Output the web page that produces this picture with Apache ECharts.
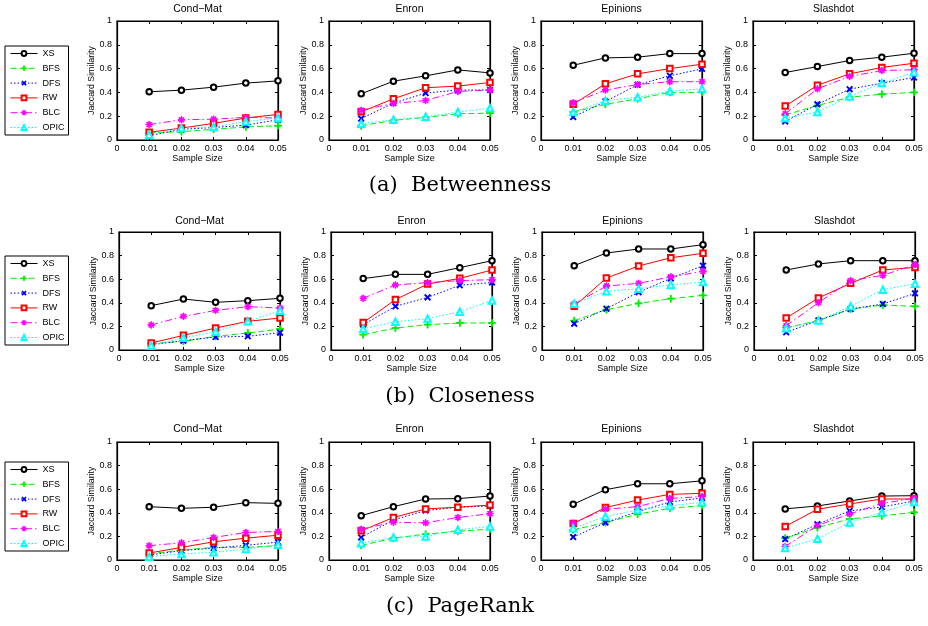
<!DOCTYPE html>
<html>
<head>
<meta charset="utf-8">
<script src="https://cdn.jsdelivr.net/npm/echarts@6/dist/echarts.min.js"></script>
<style>html,body{margin:0;padding:0;background:#fff}#c{width:928px;height:626px}</style>
</head>
<body>
<div id="c"></div>
<script>
// ---------- data ----------
const sampleSizes = [0.01, 0.02, 0.03, 0.04, 0.05];
const xTickLabels = ['0', '0.01', '0.02', '0.03', '0.04', '0.05'];
const yTickLabels = ['0', '0.2', '0.4', '0.6', '0.8', '1'];
const methods = ['XS', 'BFS', 'DFS', 'RW', 'BLC', 'OPIC'];
const datasets = ['Cond\u2212Mat', 'Enron', 'Epinions', 'Slashdot'];
const captions = ['(a)  Betweenness', '(b)  Closeness', '(c)  PageRank'];

// rows: XS, BFS, DFS, RW, BLC, OPIC
const betweennessCondMat = [
  [0.405, 0.419, 0.444, 0.478, 0.497],
  [0.060, 0.070, 0.090, 0.110, 0.120],
  [0.036, 0.090, 0.105, 0.125, 0.170],
  [0.065, 0.100, 0.140, 0.185, 0.215],
  [0.130, 0.170, 0.175, 0.190, 0.185],
  [0.045, 0.100, 0.110, 0.155, 0.185]
];
const betweennessEnron = [
  [0.388, 0.494, 0.539, 0.589, 0.564],
  [0.120, 0.165, 0.190, 0.220, 0.226],
  [0.180, 0.310, 0.394, 0.420, 0.420],
  [0.237, 0.346, 0.439, 0.453, 0.483],
  [0.250, 0.307, 0.332, 0.408, 0.420],
  [0.137, 0.170, 0.195, 0.235, 0.268]
];
const betweennessEpinions = [
  [0.628, 0.690, 0.696, 0.726, 0.726],
  [0.235, 0.300, 0.346, 0.400, 0.400],
  [0.193, 0.324, 0.464, 0.540, 0.598],
  [0.300, 0.472, 0.556, 0.600, 0.637],
  [0.313, 0.420, 0.466, 0.490, 0.490],
  [0.235, 0.330, 0.360, 0.410, 0.430]
];
const betweennessSlashdot = [
  [0.567, 0.617, 0.668, 0.696, 0.729],
  [0.210, 0.290, 0.360, 0.385, 0.400],
  [0.156, 0.300, 0.427, 0.478, 0.525],
  [0.285, 0.460, 0.556, 0.610, 0.645],
  [0.220, 0.430, 0.534, 0.584, 0.590],
  [0.184, 0.235, 0.366, 0.478, 0.570]
];
const closenessCondMat = [
  [0.376, 0.432, 0.404, 0.418, 0.438],
  [0.054, 0.073, 0.116, 0.144, 0.178],
  [0.045, 0.079, 0.110, 0.116, 0.147],
  [0.059, 0.124, 0.186, 0.243, 0.271],
  [0.212, 0.285, 0.336, 0.367, 0.356],
  [0.037, 0.104, 0.155, 0.243, 0.333]
];
const closenessEnron = [
  [0.605, 0.641, 0.641, 0.698, 0.757],
  [0.130, 0.186, 0.215, 0.229, 0.229],
  [0.215, 0.370, 0.446, 0.548, 0.573],
  [0.232, 0.427, 0.559, 0.607, 0.678],
  [0.438, 0.551, 0.571, 0.588, 0.596],
  [0.180, 0.240, 0.266, 0.325, 0.420]
];
const closenessEpinions = [
  [0.715, 0.822, 0.856, 0.856, 0.893],
  [0.249, 0.342, 0.395, 0.435, 0.463],
  [0.223, 0.350, 0.490, 0.607, 0.715],
  [0.370, 0.610, 0.712, 0.782, 0.819],
  [0.390, 0.542, 0.565, 0.620, 0.667],
  [0.393, 0.497, 0.520, 0.551, 0.576]
];
const closenessSlashdot = [
  [0.678, 0.729, 0.757, 0.757, 0.757],
  [0.189, 0.249, 0.347, 0.381, 0.370],
  [0.150, 0.251, 0.347, 0.390, 0.480],
  [0.271, 0.441, 0.565, 0.678, 0.700],
  [0.206, 0.401, 0.588, 0.633, 0.723],
  [0.184, 0.249, 0.370, 0.511, 0.562]
];
const pagerankCondMat = [
  [0.452, 0.438, 0.447, 0.486, 0.480],
  [0.053, 0.084, 0.107, 0.107, 0.121],
  [0.042, 0.079, 0.101, 0.124, 0.152],
  [0.059, 0.107, 0.154, 0.185, 0.210],
  [0.121, 0.146, 0.191, 0.233, 0.242],
  [0.028, 0.051, 0.065, 0.093, 0.129]
];
const pagerankEnron = [
  [0.376, 0.452, 0.517, 0.520, 0.542],
  [0.124, 0.185, 0.219, 0.244, 0.261],
  [0.191, 0.340, 0.419, 0.447, 0.458],
  [0.247, 0.360, 0.433, 0.447, 0.466],
  [0.261, 0.320, 0.315, 0.360, 0.393],
  [0.143, 0.191, 0.199, 0.256, 0.284]
];
const pagerankEpinions = [
  [0.472, 0.596, 0.646, 0.646, 0.671],
  [0.256, 0.317, 0.388, 0.438, 0.461],
  [0.194, 0.317, 0.410, 0.492, 0.525],
  [0.309, 0.444, 0.508, 0.556, 0.565],
  [0.312, 0.430, 0.452, 0.522, 0.537],
  [0.270, 0.368, 0.424, 0.458, 0.489]
];
const pagerankSlashdot = [
  [0.433, 0.458, 0.500, 0.542, 0.545],
  [0.185, 0.275, 0.348, 0.374, 0.404],
  [0.177, 0.303, 0.416, 0.449, 0.500],
  [0.284, 0.430, 0.475, 0.517, 0.517],
  [0.115, 0.292, 0.390, 0.480, 0.522],
  [0.101, 0.180, 0.317, 0.404, 0.492]
];
const panels = [
  [betweennessCondMat, betweennessEnron, betweennessEpinions, betweennessSlashdot],
  [closenessCondMat, closenessEnron, closenessEpinions, closenessSlashdot],
  [pagerankCondMat, pagerankEnron, pagerankEpinions, pagerankSlashdot]
];

// ---------- layout / style ----------
const FONT = 'Liberation Sans';
const rowTops = [21, 232, 442];
const rowHeights = [119, 118, 118];
const rowLefts = [[117, 329, 541, 753], [119, 331, 542, 754], [117, 329, 541, 753]];
const plotW = 161;
const titleTops = [4, 216, 424];
const captionTops = [175, 386, 596];
const legendTops = [46, 256, 462];

function polyPath(pts) {
  return 'M' + pts.map(p => (p[0] + 5).toFixed(3) + ',' + (p[1] + 5).toFixed(3)).join('L') + 'Z';
}
const t = 0.65;
const plusPts = [[-t,-5],[t,-5],[t,-t],[5,-t],[5,t],[t,t],[t,5],[-t,5],[-t,t],[-5,t],[-5,-t],[-t,-t]];
const rot = (pts, a) => pts.map(p => [p[0]*Math.cos(a) - p[1]*Math.sin(a), p[0]*Math.sin(a) + p[1]*Math.cos(a)]);
const plusPath = 'path://' + polyPath(plusPts);
const starPath = 'path://' + polyPath(plusPts) + polyPath(rot(plusPts, Math.PI/4));

const styles = {
  XS:   { color: '#000000', type: 'solid',        symbol: 'emptyCircle',   size: 5.5, rotate: 0 },
  BFS:  { color: '#00f000', type: [6, 3],         symbol: plusPath,        size: 7,   rotate: 0 },
  DFS:  { color: '#0000ff', type: [1.5, 2],       symbol: plusPath,        size: 7,   rotate: 45 },
  RW:   { color: '#ff0000', type: 'solid',        symbol: 'emptyRect',     size: 5.5, rotate: 0 },
  BLC:  { color: '#ff00ff', type: [7, 3, 1.5, 3], symbol: starPath,        size: 6.5, rotate: 0 },
  OPIC: { color: '#00ffff', type: [1.5, 2],       symbol: 'emptyTriangle', size: 6.5, rotate: 0 }
};

const grids = [], xAxes = [], yAxes = [], series = [], titles = [], legends = [];
const xTop = [], yRight = [];
for (let r = 0; r < 3; r++) {
  for (let c = 0; c < 4; c++) {
    const g = r * 4 + c;
    const left = rowLefts[r][c];
    grids.push({ left: left, top: rowTops[r], width: plotW, height: rowHeights[r],
      show: true, borderColor: '#000', borderWidth: 1.2, backgroundColor: '#fff' });
    xAxes.push({
      type: 'value', gridIndex: g, min: 0, max: 0.05, interval: 0.01,
      axisLine: { show: true, onZero: false, lineStyle: { color: '#000', width: 1.2 } },
      axisTick: { show: true, inside: true, length: 3, lineStyle: { color: '#000' } },
      axisLabel: { color: '#000', fontSize: 9, fontFamily: FONT, margin: 4,
        formatter: (v, i) => xTickLabels[Math.round(v / 0.01)] },
      splitLine: { show: false },
      name: 'Sample Size', nameLocation: 'middle', nameGap: 14,
      nameTextStyle: { color: '#000', fontSize: 9, fontFamily: FONT }
    });
    xTop.push({
      type: 'value', gridIndex: g, position: 'top', min: 0, max: 0.05, interval: 0.01,
      axisLine: { show: true, onZero: false, lineStyle: { color: '#000', width: 1.2 } },
      axisTick: { show: true, inside: true, length: 3, lineStyle: { color: '#000' } },
      axisLabel: { show: false }, splitLine: { show: false }
    });
    yAxes.push({
      type: 'value', gridIndex: g, min: 0, max: 1, interval: 0.2,
      axisLine: { show: true, onZero: false, lineStyle: { color: '#000', width: 1.2 } },
      axisTick: { show: true, inside: true, length: 3, lineStyle: { color: '#000' } },
      axisLabel: { color: '#000', fontSize: 9, fontFamily: FONT, margin: 5,
        formatter: (v) => yTickLabels[Math.round(v / 0.2)] },
      splitLine: { show: false },
      name: 'Jaccard Similarity', nameLocation: 'middle', nameGap: 19,
      nameTextStyle: { color: '#000', fontSize: 8.8, fontFamily: FONT }
    });
    yRight.push({
      type: 'value', gridIndex: g, position: 'right', min: 0, max: 1, interval: 0.2,
      axisLine: { show: true, onZero: false, lineStyle: { color: '#000', width: 1.2 } },
      axisTick: { show: true, inside: true, length: 3, lineStyle: { color: '#000' } },
      axisLabel: { show: false }, splitLine: { show: false }
    });
    titles.push({ text: datasets[c], left: left + plotW / 2, top: titleTops[r], textAlign: 'center', padding: 0,
      textStyle: { fontSize: 10.5, fontWeight: 'normal', color: '#000', fontFamily: FONT } });
    const panel = panels[r][c];
    methods.forEach((m, mi) => {
      const s = styles[m];
      series.push({
        type: 'line', name: m, xAxisIndex: g, yAxisIndex: g,
        data: sampleSizes.map((x, i) => [x, panel[mi][i]]),
        symbol: s.symbol, symbolSize: s.size, symbolRotate: s.rotate, showAllSymbol: true,
        lineStyle: { color: s.color, width: 1, type: s.type },
        itemStyle: { color: s.color, borderColor: s.color, borderWidth: 1 },
        emphasis: { disabled: true }, silent: true
      });
    });
  }
  titles.push({ text: captions[r], left: 460, top: captionTops[r], textAlign: 'center', padding: 0,
    textStyle: { fontSize: 21, fontWeight: 'normal', color: '#000', fontFamily: 'DejaVu Serif' } });
  legends.push({
    orient: 'vertical', left: 5, top: legendTops[r], data: methods,
    itemWidth: 27, itemHeight: 6, itemGap: 5.8, padding: [3, 4, 3, 5],
    borderColor: '#000', borderWidth: 1, backgroundColor: '#fff',
    lineStyle: { width: 1 }, itemStyle: { borderWidth: 1 },
    textStyle: { fontSize: 9, fontFamily: FONT, color: '#000', lineHeight: 9 },
    selectedMode: false
  });
}

const chart = echarts.init(document.getElementById('c'), null, { renderer: 'canvas' });
chart.setOption({
  animation: false,
  backgroundColor: '#fff',
  title: titles,
  legend: legends,
  grid: grids,
  xAxis: xAxes.concat(xTop),
  yAxis: yAxes.concat(yRight),
  series: series
});
</script>
</body>
</html>
